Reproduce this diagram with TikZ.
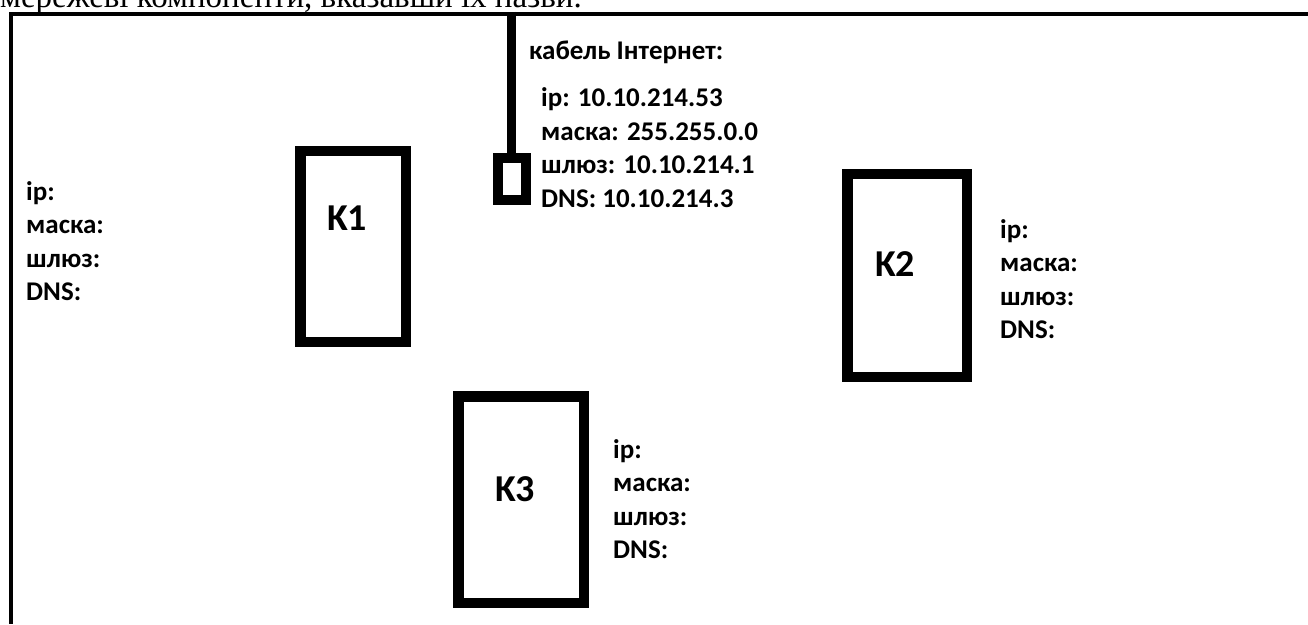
\documentclass[tikz,border=0pt]{standalone}
\usepackage{fontspec}
\newfontfamily\calfont{Carlito}
\newfontfamily\tmsfont{Liberation Serif}
\begin{document}
\begin{tikzpicture}[x=1bp,y=-1bp,
  info/.style={anchor=base west,align=left,inner sep=0pt,font=\calfont\bfseries\fontsize{27bp}{33.5bp}\selectfont},
  klabel/.style={anchor=base west,inner sep=0pt,font=\calfont\bfseries\fontsize{38bp}{40bp}\selectfont},
  pcbox/.style={draw=black,line width=10.5bp,rectangle,inner sep=0pt},
  frame/.style={line width=4.5bp,black}]
\useasboundingbox (0,0) rectangle (1308,625);
\begin{scope}
\clip (0,0) rectangle (1308,625);
\node[anchor=base west,inner sep=0pt,font=\tmsfont\fontsize{33bp}{36bp}\selectfont] (head) at (0,8) {мережеві компоненти, вказавши їх назви.};
\coordinate (tl) at (11,14);
\coordinate (tr) at (1310,14);
\coordinate (bl) at (11,624);
\draw[frame] (tr) -- (tl) -- (bl);
\end{scope}
% boxes
\node[pcbox,minimum width=105.5bp,minimum height=190.5bp] (K1) at (353,246.5) {};
\node[pcbox,minimum width=119.5bp,minimum height=202.5bp] (K2) at (907,275.5) {};
\node[pcbox,minimum width=125.5bp,minimum height=206.5bp] (K3) at (521,499.5) {};
\node[klabel] (K1l) at (327,230) {K1};
\node[klabel] (K2l) at (875,276) {K2};
\node[klabel] (K3l) at (495,501) {K3};
% socket and cable
\node[draw=black,line width=10bp,minimum width=28bp,minimum height=42bp,inner sep=0pt] (jack) at (512,179) {};
\coordinate (cabletop) at (511.5,12);
\draw[line width=9bp] (cabletop) -- (cabletop |- jack.north);
% texts
\node[info] (cab) at (529,60) {кабель Інтернет:};
\node[info] (net) at (541,207.5) {ip: 10.10.214.53\\маска: 255.255.0.0\\шлюз: 10.10.214.1\\DNS: 10.10.214.3};
\node[info] (t0) at (26,300.5) {ip:\\маска:\\шлюз:\\DNS:};
\node[info] (t2) at (1000,338.5) {ip:\\маска:\\шлюз:\\DNS:};
\node[info] (t3) at (613,558.5) {ip:\\маска:\\шлюз:\\DNS:};
\end{tikzpicture}
\end{document}
